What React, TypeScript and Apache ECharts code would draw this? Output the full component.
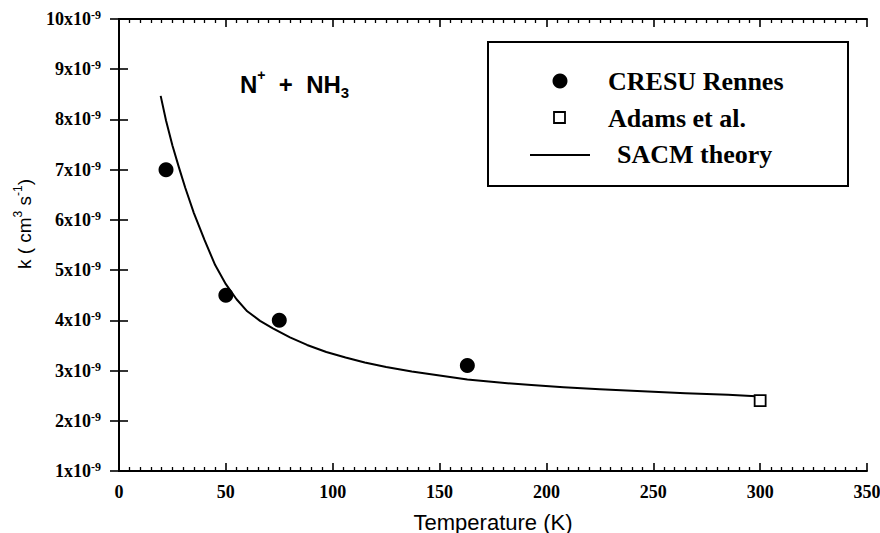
import React, { useEffect, useRef } from "react";
import * as echarts from "echarts";

// Data (k in units of 1e-9 cm^3 s^-1)
const cresuT = [22, 50, 75, 163];
const cresuK = [7.0, 4.5, 4.0, 3.1];
const adamsT = [300];
const adamsK = [2.4];
const sacmT = [19.5, 22, 25, 28, 31, 35, 40, 45, 50, 55, 60, 66, 72, 80, 88, 97, 106, 115, 125, 137, 150, 163, 178, 193, 208, 225, 245, 265, 285, 298];
const sacmK = [8.47, 7.98, 7.48, 7.05, 6.64, 6.14, 5.6, 5.1, 4.72, 4.42, 4.18, 3.99, 3.84, 3.66, 3.51, 3.37, 3.26, 3.16, 3.07, 2.98, 2.9, 2.82, 2.76, 2.71, 2.67, 2.63, 2.59, 2.55, 2.52, 2.49];
const xMin = 0, xMax = 350, xStep = 50;
const yMin = 1, yMax = 10, yStep = 1;
const legendNames = ["CRESU Rennes", "Adams et al.", "SACM theory"];

const SERIF = "'Liberation Serif', 'Times New Roman', serif";
const SANS = "'Liberation Sans', Arial, sans-serif";

export default function App() {
  const ref = useRef<HTMLDivElement>(null);
  useEffect(() => {
    if (!ref.current) return;
    const chart = echarts.init(ref.current, undefined, { renderer: "svg" });
    const axisLine = { show: true, lineStyle: { color: "#000", width: 2 } };
    const xTick = { show: true, inside: true, length: 8, lineStyle: { color: "#000", width: 1.6 } };
    const xMinor = { show: true, splitNumber: 10, length: 4, lineStyle: { color: "#000", width: 1.3 } };
    const yTick = { show: true, inside: true, length: 9, lineStyle: { color: "#000", width: 1.6 } };
    chart.setOption({
      animation: false,
      backgroundColor: "#fff",
      grid: { left: 119, right: 13, top: 19, bottom: 62, containLabel: false, outerBoundsMode: "none" },
      xAxis: [
        {
          type: "value", min: xMin, max: xMax, interval: xStep, position: "bottom",
          axisLine, axisTick: xTick, minorTick: xMinor, splitLine: { show: false },
          axisLabel: { margin: 12, color: "#000", fontFamily: SERIF, fontWeight: "bold", fontSize: 18 },
          name: "Temperature (K)", nameLocation: "middle", nameGap: 40,
          nameTextStyle: { color: "#000", fontFamily: SANS, fontSize: 22 },
        },
        {
          type: "value", min: xMin, max: xMax, interval: xStep, position: "top",
          axisLine, axisTick: xTick, minorTick: xMinor, splitLine: { show: false },
          axisLabel: { show: false },
        },
      ],
      yAxis: [
        {
          type: "value", min: yMin, max: yMax, interval: yStep, position: "left",
          axisLine, axisTick: yTick, splitLine: { show: false },
          axisLabel: {
            margin: 18,
            formatter: (v: number) => `{a|${v}x10}{b|-9}`,
            rich: {
              a: { color: "#000", fontFamily: SERIF, fontWeight: "bold", fontSize: 18, lineHeight: 20 },
              b: { color: "#000", fontFamily: SERIF, fontWeight: "bold", fontSize: 12, lineHeight: 12, verticalAlign: "top" },
            },
          },
        },
        {
          type: "value", min: yMin, max: yMax, interval: yStep, position: "right",
          axisLine, axisTick: yTick, splitLine: { show: false },
          axisLabel: { show: false },
        },
      ],
      series: [
        {
          name: legendNames[2], type: "line", smooth: false, showSymbol: false, symbol: "none",
          data: sacmT.map((t, i) => [t, sacmK[i]]),
          lineStyle: { color: "#000", width: 2, join: "round" }, z: 2,
        },
        {
          name: legendNames[0], type: "scatter", symbol: "circle", symbolSize: 15,
          data: cresuT.map((t, i) => [t, cresuK[i]]),
          itemStyle: { color: "#000", opacity: 1 }, z: 3,
        },
        {
          name: legendNames[1], type: "scatter", symbol: "rect", symbolSize: 11,
          data: adamsT.map((t, i) => [t, adamsK[i]]),
          itemStyle: { color: "#fff", borderColor: "#000", borderWidth: 1.8, opacity: 1 }, z: 3,
        },
      ],
      graphic: [
        // Legend box
        { type: "rect", shape: { x: 488, y: 42, width: 360, height: 144 }, style: { fill: "#fff", stroke: "#000", lineWidth: 2 }, z: 10 },
        { type: "circle", shape: { cx: 560, cy: 81, r: 7.5 }, style: { fill: "#000" }, z: 11 },
        { type: "text", x: 608, y: 81, style: { text: legendNames[0], fill: "#000", font: `bold 26px ${SERIF}`, verticalAlign: "middle", align: "left" }, z: 11 },
        { type: "rect", shape: { x: 554, y: 112, width: 11, height: 11 }, style: { fill: "#fff", stroke: "#000", lineWidth: 1.8 }, z: 11 },
        { type: "text", x: 608, y: 118, style: { text: legendNames[1], fill: "#000", font: `bold 26px ${SERIF}`, verticalAlign: "middle", align: "left" }, z: 11 },
        { type: "line", shape: { x1: 530, y1: 155, x2: 590, y2: 155 }, style: { stroke: "#000", lineWidth: 2 }, z: 11 },
        { type: "text", x: 617, y: 154, style: { text: legendNames[2], fill: "#000", font: `bold 26px ${SERIF}`, verticalAlign: "middle", align: "left" }, z: 11 },
        // Reaction label
        {
          type: "text", x: 240, y: 84, z: 11,
          style: {
            text: "{n|N}{p|+}{n|  +  NH}{q|3}",
            verticalAlign: "middle", align: "left",
            rich: {
              n: { fill: "#000", font: `bold 24px ${SANS}`, lineHeight: 32, verticalAlign: "middle" },
              p: { fill: "#000", font: `bold 14px ${SANS}`, lineHeight: 14, verticalAlign: "top" },
              q: { fill: "#000", font: `bold 15px ${SANS}`, lineHeight: 15, verticalAlign: "bottom" },
            },
          },
        },
        // Y axis name
        {
          type: "text", x: 24, y: 224, rotation: Math.PI / 2, z: 11,
          style: {
            text: "{n|k ( cm}{s|3}{n| s}{s|-1}{n|)}",
            align: "center", verticalAlign: "middle",
            rich: {
              n: { fill: "#000", font: `19px ${SANS}`, lineHeight: 24, verticalAlign: "middle" },
              s: { fill: "#000", font: `12px ${SANS}`, lineHeight: 12, verticalAlign: "top" },
            },
          },
        },
      ],
    });
    return () => chart.dispose();
  }, []);
  return <div ref={ref} style={{ position: "fixed", left: 0, top: 0, width: 880, height: 533 }} />;
}
